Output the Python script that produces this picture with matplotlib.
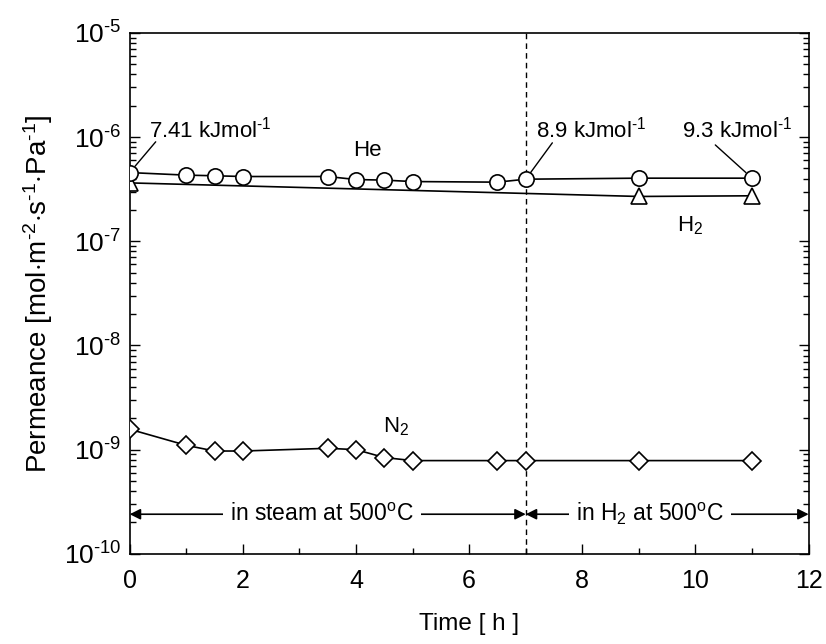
import matplotlib
matplotlib.use('Agg')
import matplotlib.pyplot as plt
import numpy as np
from matplotlib.ticker import MultipleLocator, LogLocator, NullFormatter, FuncFormatter

plt.rcParams['font.family'] = ['Liberation Sans', 'DejaVu Sans']
plt.rcParams['mathtext.fontset'] = 'custom'
plt.rcParams['mathtext.rm'] = 'Liberation Sans'
plt.rcParams['mathtext.it'] = 'Liberation Sans:italic'
plt.rcParams['mathtext.bf'] = 'Liberation Sans:bold'

# data
he_time = [0, 1, 1.5, 2, 3.5, 4, 4.5, 5, 6.5, 7, 9, 11]
he_perm = [4.56e-7, 4.31e-7, 4.25e-7, 4.18e-7, 4.18e-7, 3.91e-7, 3.86e-7,
           3.74e-7, 3.69e-7, 3.94e-7, 4.03e-7, 4.03e-7]

h2_time = [0, 9, 11]
h2_perm = [3.63e-7, 2.69e-7, 2.73e-7]

n2_time = [0, 1, 1.5, 2, 3.5, 4, 4.5, 5, 6.5, 7, 9, 11]
n2_perm = [1.57e-9, 1.10e-9, 9.7e-10, 9.7e-10, 1.03e-9, 1.0e-9, 8.4e-10,
           7.85e-10, 7.85e-10, 7.85e-10, 7.85e-10, 7.85e-10]

ea_labels = ['7.41 kJmol$^{\\text{-}1}$', '8.9 kJmol$^{\\text{-}1}$', '9.3 kJmol$^{\\text{-}1}$']
ea_index = [0, 9, 11]   # He points the labels point to

switch_time = 7

fig = plt.figure(figsize=(8.26, 6.44), dpi=100)
ax = fig.add_axes([0.157, 0.140, 0.822, 0.809])

mk = dict(markerfacecolor='white', markeredgecolor='black', markeredgewidth=1.2,
          color='black', linewidth=1.2)
ax.plot(h2_time, h2_perm, marker='^', markersize=11, zorder=3, **mk)
ax.plot(he_time, he_perm, marker='o', markersize=11, zorder=4, **mk)
ax.plot(n2_time, n2_perm, marker='D', markersize=9.5, zorder=3, **mk)

ax.axvline(switch_time, color='black', linestyle=(0, (4, 3)), linewidth=1.0, zorder=1)

ax.set_yscale('log')
ax.set_xlim(0, 12)
ax.set_ylim(1e-10, 1e-5)
ax.xaxis.set_major_locator(MultipleLocator(2))
ax.xaxis.set_minor_locator(MultipleLocator(1))
ax.yaxis.set_major_locator(LogLocator(base=10, numticks=10))
ax.yaxis.set_minor_locator(LogLocator(base=10, subs=np.arange(2, 10), numticks=20))
ax.yaxis.set_minor_formatter(NullFormatter())
ax.yaxis.set_major_formatter(FuncFormatter(
    lambda v, p: '10$^{\\text{-}%d}$' % round(-np.log10(v))))
ax.tick_params(which='both', direction='in', right=True, top=False, width=1.0)
ax.tick_params(axis='x', labelsize=18, pad=11)
ax.tick_params(axis='y', labelsize=19, pad=6)
ax.tick_params(which='major', length=7)
ax.tick_params(which='minor', length=4)
for s in ax.spines.values():
    s.set_linewidth(1.2)

ax.set_xlabel('Time [ h ]', fontsize=17.5, labelpad=14)
ax.set_ylabel('Permeance [mol$\\cdot$m$^{\\text{-}2}$$\\cdot$s$^{\\text{-}1}$$\\cdot$Pa$^{\\text{-}1}$]',
              fontsize=20, labelpad=6)

# gas labels
ax.text(4.2, 7.5e-7, 'He', fontsize=16, ha='center', va='center')
ax.text(9.9, 1.41e-7, 'H$_2$', fontsize=16, ha='center', va='center')
ax.text(4.7, 1.66e-9, 'N$_2$', fontsize=16, ha='center', va='center')

# activation energy labels with leader lines
text_pos = [(0.35, 1.0e-6), (7.19, 1.0e-6), (9.77, 1.0e-6)]
line_start = [(0.46, 9.0e-7), (7.47, 8.8e-7), (10.35, 8.4e-7)]
for lab, idx, tp, ls in zip(ea_labels, ea_index, text_pos, line_start):
    ax.text(tp[0], tp[1], lab, fontsize=16, ha='left', va='baseline')
    ax.annotate('', xy=(he_time[idx], he_perm[idx]), xytext=ls,
                arrowprops=dict(arrowstyle='-', color='black', lw=1.0,
                                shrinkA=0, shrinkB=6))

# period arrows
arrow_y = 2.4e-10
ax.annotate('', xy=(0, arrow_y), xytext=(switch_time, arrow_y),
            arrowprops=dict(arrowstyle='<|-|>', color='black', lw=1.2,
                            mutation_scale=16, shrinkA=0, shrinkB=0))
ax.annotate('', xy=(switch_time, arrow_y), xytext=(12, arrow_y),
            arrowprops=dict(arrowstyle='<|-|>', color='black', lw=1.2,
                            mutation_scale=16, shrinkA=0, shrinkB=0))
bb = dict(facecolor='white', edgecolor='none', pad=5)
ax.text(3.4, arrow_y, 'in steam at 500$^{\\rm o}$C', fontsize=16.5, ha='center', va='center', bbox=bb)
ax.text(9.2, arrow_y, 'in H$_2$ at 500$^{\\rm o}$C', fontsize=16.5, ha='center', va='center', bbox=bb)

fig.savefig('out.png', dpi=100)
